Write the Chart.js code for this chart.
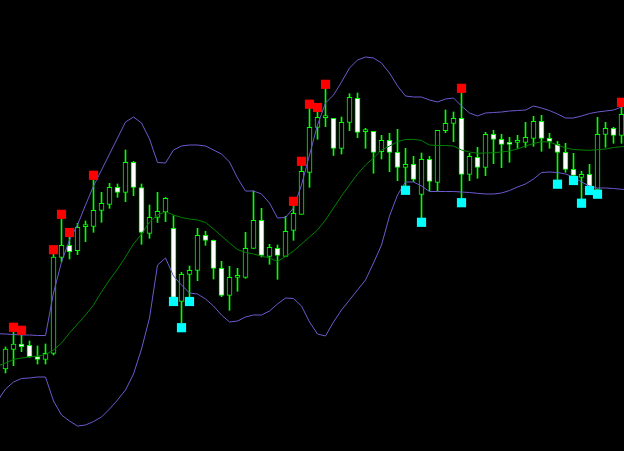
<!DOCTYPE html>
<html>
<head>
<meta charset="utf-8">
<script src="https://cdn.jsdelivr.net/npm/chart.js@4/dist/chart.umd.min.js"></script>
<style>
  html, body { margin: 0; padding: 0; background: #000; overflow: hidden; }
  #wrap { width: 624px; height: 451px; position: relative; background: #000; }
  canvas { display: block; }
</style>
</head>
<body>
<div id="wrap"><canvas id="c" width="624" height="451"></canvas></div>
<script>
// Bar index (one candle per bar)
const bars = Array.from({length: 78}, (_, i) => i);

// OHLC values (price units)
const open = [82,101.7,107,105.7,94.3,91.7,97.7,193.7,205.7,200.3,
  224.3,224.7,240.7,246.7,263.7,258.7,288.7,263.5,217.7,233.7,
  239,222.7,149.7,176.7,180.7,215.7,210.7,182.7,155.7,173.7,
  173.7,202.5,230.7,194.7,202.7,194.7,220.7,236.7,278.7,323.7,
  333.3,332.7,302.7,328.7,352.7,319.3,319.7,299.3,310.7,298.7,
  283.7,286.7,256.7,291.7,268.7,320.3,327.7,332.7,276.7,293.7,
  283.7,316.7,311.7,308.7,308.7,308.7,312.7,329.7,312.7,306.7,
  298.7,281.7,273.7,276.7,261.7,316.7,322.7,315.7];
const high = [104,119,116,110,105,107,197,232,213.7,227.7,
  230,271,258.7,267.7,267,301,289.7,267,246,258.7,
  253.5,235.3,178.7,185,222.7,219.7,211,189.7,184.7,182.7,
  218.7,260,242.7,206.7,206,234.7,245.7,285.7,342.7,339.3,
  362.5,332.7,334,357.3,358,322.7,319.7,315.7,317.7,321.7,
  302.7,294.7,298,294.7,320.7,341,339,358.3,297.7,303.7,
  318.7,320.7,316.7,313.7,315.7,328.7,334.7,335.7,317.7,309.7,
  307.7,297.7,279.7,286.7,333.7,328.7,323.7,343.7];
const low = [78,85.3,99.3,93.7,87,87,96,189.3,192,196.3,
  209.3,218.7,228.7,242.7,253.7,249.3,255.3,206.7,212.7,228.5,
  229.3,153.5,127.7,153.7,170.3,205.7,172,154.3,140.7,159.7,
  172.7,202.5,194,186.7,171.7,194.7,210.7,236.7,263.7,311.7,
  324.3,295.5,297,320.3,313.3,302.7,277.7,292,279.3,270.3,
  264.5,269.3,233,260,260,318.3,309.3,252.7,270.3,272.7,
  275.3,287.3,283.3,288.7,302.7,303.7,304.7,299.7,302.7,271.5,
  278.7,275.5,252.3,264.5,261.5,303.7,307.7,307.7];
const close = [102,107,104.3,94.3,91.7,97.7,194,205.7,199.3,223.7,
  224.3,240.7,247.7,263.7,258.7,288.7,263.7,218.7,233.7,239.7,
  252.7,153.7,176.7,180.7,215.7,210.7,182.7,155.7,173.7,173.7,
  202.7,230.7,195.5,203.7,195.7,219.7,237.7,279.7,323.7,333.7,
  333.3,302.7,328.7,353.7,318.7,319.3,298.7,310.7,298.7,283.7,
  286.7,271.7,291.7,269.7,320.7,327.7,332.7,276.7,294.7,283.7,
  316.7,311.7,306.7,306.7,308.7,313.7,329.7,312.7,309.7,298.7,
  281.7,275.7,276.7,264.7,316.7,322.7,315.7,336.7];

// Bollinger bands: one value per bar, plus one bar before (-1) and after (78)
const bandStart = -1;
const upperBand = [117.3,
  117,116.5,116,116,115.5,115.5,158,189,211,226,
  246,265,281,297,313,329,334,328,312,288.5,
  288,301,305,306,306,305,301,297,289,273,
  260,260,257,248,233,233.5,243,266,296,326,
  348,356,369,383,391,394,393,388,378,365,
  355,354,354,351,349,352,353,345,338,335,
  338,338.5,339,340,340.5,341,345,343,340.5,337,
  333,333,335,337.5,339,340,341,344,
  346];
const middleBand = [85,
  88,91.5,93,94,95,96.5,101,108,118,127,
  136,146,159,171,182,194,207,217,229,236,
  239.3,236,233.5,232,231,228.5,222,215,208,201.5,
  198.5,197,195,193,189.5,194.5,200,207,214,221,
  231,243,255,266,277,286,293,301,305,309.3,
  311.5,311.7,310.5,306,305.5,305.5,305,301,299,297.7,
  298,298.3,299,300,302,305,307.5,309.3,309,306,
  303,301.5,301,300.7,301.3,302,303.5,304.3,
  305];
const lowerBand = [50,
  62,69,72.5,73,74,74,50,36,30,25,
  26,29.5,34,42,51,61,77,102,133,186,
  193,175,166,158,157,152,145,136,129,130,
  134,136,136,140,147,153,152.5,145,129,117,
  115,129,141,151,161,171,188,206,235,256,
  269,269,265,259.5,259.5,259.5,259.5,259,258.5,257.7,
  257,257,258,260.5,264,267,272,278.5,279,278.5,
  277,274,269,265,263,263,262.5,261.7,
  261.5];

// Signal markers (fractal up = red, down = cyan)
const upBars = [1,2,6,7,8,11,36,37,38,39,40,57,77];
const upValues = [123.7,120.7,201.3,236.7,218.5,275.7,249.7,289.7,346.8,343.5,366.7,362.7,348.7];
const downBars = [21,22,23,50,52,57,69,71,72,73,74];
const downValues = [149.5,123.3,149.5,260.7,228.7,248.3,266.8,270.5,247.8,260.5,256.8];

const LIME = '#00ff00';

const bodies = bars.map(i => ({x: i, y: [open[i], close[i]]}));
const bodyFill = bars.map(i => close[i] < open[i] ? '#ffffff' : '#000000');
const wicks = bars.map(i => ({x: i, y: [low[i], high[i]]}));
const band = arr => arr.map((v, k) => ({x: bandStart + k, y: v}));
const ups = upBars.map((b, k) => ({x: b, y: upValues[k]}));
const downs = downBars.map((b, k) => ({x: b, y: downValues[k]}));

new Chart(document.getElementById('c'), {
  type: 'bar',
  data: {
    datasets: [
      { type: 'scatter', data: ups, pointStyle: 'rect', pointRadius: 6.5, backgroundColor: '#ff0000', borderWidth: 0, showLine: false, order: 0 },
      { type: 'scatter', data: downs, pointStyle: 'rect', pointRadius: 6.5, backgroundColor: '#00ffff', borderWidth: 0, showLine: false, order: 0 },
      { type: 'line', data: band(upperBand), borderColor: '#6a5acd', borderWidth: 1, pointRadius: 0, tension: 0, fill: false, order: 1 },
      { type: 'line', data: band(lowerBand), borderColor: '#6a5acd', borderWidth: 1, pointRadius: 0, tension: 0, fill: false, order: 1 },
      { type: 'line', data: band(middleBand), borderColor: '#008000', borderWidth: 1, pointRadius: 0, tension: 0, fill: false, order: 1 },
      { type: 'bar', data: bodies, backgroundColor: bodyFill, borderColor: LIME, borderWidth: 1, borderSkipped: false, barThickness: 5, minBarLength: 2, grouped: false, order: 2 },
      { type: 'bar', data: wicks, backgroundColor: LIME, borderWidth: 0, barThickness: 1, grouped: false, order: 3 }
    ]
  },
  options: {
    responsive: false,
    devicePixelRatio: 1,
    animation: false,
    events: [],
    layout: { padding: 0, autoPadding: false },
    plugins: { legend: { display: false }, tooltip: { enabled: false } },
    scales: {
      x: { type: 'linear', min: -0.6875, max: 77.3125, offset: false, display: false },
      y: { type: 'linear', min: 0, max: 451, display: false }
    }
  }
});
</script>
</body>
</html>
